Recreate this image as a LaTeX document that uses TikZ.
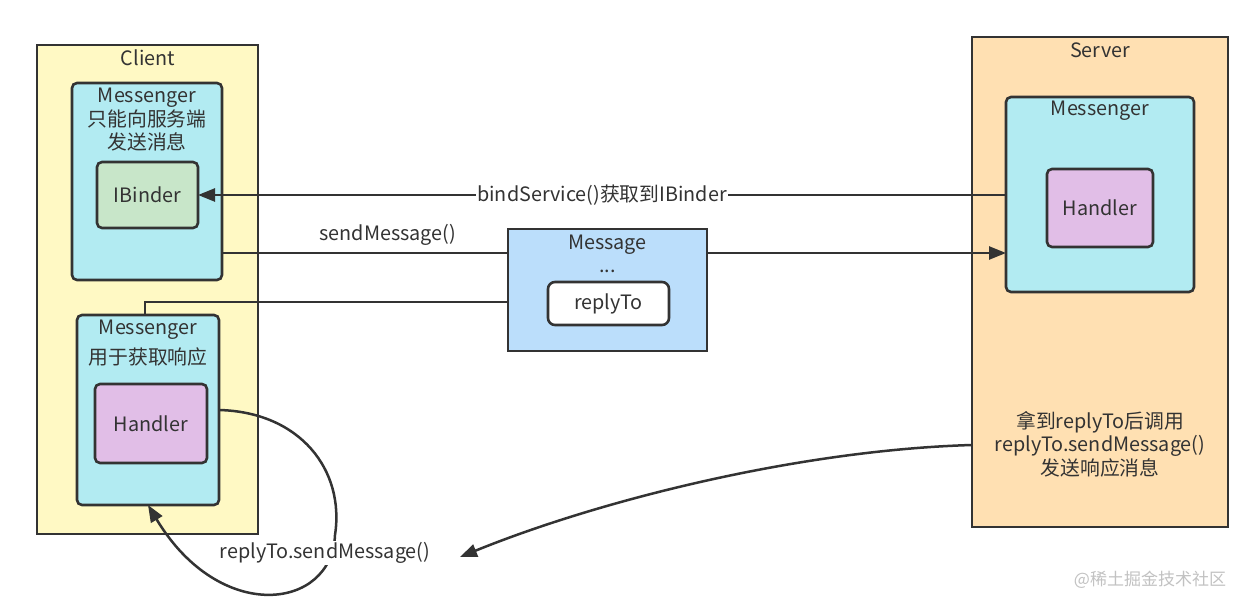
\documentclass[tikz,border=0pt]{standalone}
\usepackage{fontspec}
\setmainfont{Noto Sans CJK SC}
\usetikzlibrary{arrows.meta}

\definecolor{clientyellow}{HTML}{FFF9C4}
\definecolor{servorange}{HTML}{FFE0B2}
\definecolor{msgrcyan}{HTML}{B2EBF2}
\definecolor{bindgreen}{HTML}{C8E6C9}
\definecolor{handlerpurple}{HTML}{E1BEE7}
\definecolor{msgblue}{HTML}{BBDEFB}
\definecolor{linegray}{HTML}{333333}
\definecolor{markgray}{HTML}{C2C2C2}

\tikzset{
  box/.style={draw=linegray, line width=2.6pt, inner sep=0pt, outer sep=0pt,
    text=linegray, font=\fontsize{19.8}{23.5}\selectfont},
  rbox/.style={box, rounded corners=5pt},
  txt/.style={text=linegray, align=center, inner sep=1pt, font=\fontsize{19.8}{23.5}\selectfont},
  conn/.style={draw=linegray, line width=2.5pt},
  arr/.style={conn, -{Triangle[length=17pt,width=13pt]}},
}

\begin{document}
\begin{tikzpicture}[x=1pt,y=-1pt]
\useasboundingbox[fill=white] (0,0) rectangle (1258,609);

%Shape: Client side
\node[box, fill=clientyellow, minimum width=221pt, minimum height=489pt] (client) at (147.5,289.5) {};
\node[rbox, fill=msgrcyan, minimum width=150pt, minimum height=197pt] (msgr1) at (147,181.5) {};
\node[rbox, fill=bindgreen, minimum width=101pt, minimum height=66pt] (ibinder) at (147.5,195) {IBinder};
\node[rbox, fill=msgrcyan, minimum width=142pt, minimum height=190pt] (msgr2) at (148,410) {};
\node[rbox, fill=handlerpurple, minimum width=112pt, minimum height=79pt] (handler1) at (151,423.5) {Handler};

%Shape: Message
\node[box, fill=msgblue, minimum width=199pt, minimum height=122pt] (message) at (607.5,290) {};
\node[box, fill=white, rounded corners=7pt, minimum width=121pt, minimum height=43pt] (replyto) at (608.5,303.5) {replyTo};

%Shape: Server side
\node[box, fill=servorange, minimum width=256pt, minimum height=490pt] (server) at (1100,282) {};
\node[rbox, fill=msgrcyan, minimum width=188pt, minimum height=195pt] (msgr3) at (1100,194.5) {};
\node[rbox, fill=handlerpurple, minimum width=106pt, minimum height=78pt] (handler2) at (1100,208) {Handler};

% Text Node
\node[txt] (clientlbl) at (148,58) {Client};
\node[txt] (msgr1lbl) at (147,120) {Messenger\\只能向服务端\\发送消息};
\node[txt] (msgr2lbl) at (148,343) {Messenger\\[6pt]用于获取响应};
\node[txt] (msglbl) at (607.5,254) {Message\\...};
\node[txt] (serverlbl) at (1100,50) {Server};
\node[txt] (msgr3lbl) at (1100,111) {Messenger};
\node[txt] (serverdesc) at (1100,444) {拿到replyTo后调用\\replyTo.sendMessage()\\发送响应消息};

%Straight Lines
\coordinate (send) at ([yshift=37pt]message.west);
\coordinate (back) at ([yshift=-12pt]message.west);
\draw[arr] (msgr3.west |- ibinder.east) -- (ibinder.east)
  node[midway, txt, fill=white] {bindService()获取到IBinder};
\draw[conn] (msgr1.east |- send) -- (send) node[pos=0.58, above=5pt, txt] {sendMessage()};
\draw[arr] (message.east |- send) -- (msgr3.west |- send);
\draw[conn] (back) -| ([xshift=-3pt]msgr2.north);

%Curve Lines
\coordinate (srvout) at ([yshift=-163pt]server.west);
\coordinate (replytip) at (460,557);
\draw[arr] (srvout) .. controls (800,450) and (600,500) .. (replytip);
\draw[arr] (msgr2.east) .. controls (300,412) and (345,470) .. (335,535)
  .. controls (332,610) and (220,625) .. (msgr2.south);
\node[txt, fill=white] (replylbl) at (325,553) {replyTo.sendMessage()};

% Text Node
\node[txt, text=markgray, font=\fontsize{17}{20}\selectfont] (mark) at (1150,580) {@稀土掘金技术社区};

\end{tikzpicture}
\end{document}
